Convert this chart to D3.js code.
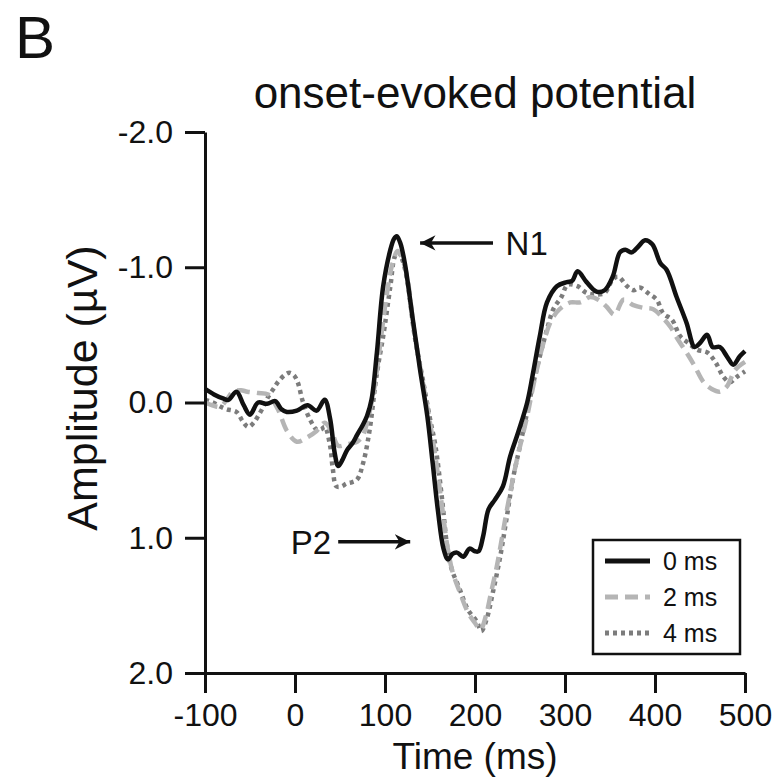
<!DOCTYPE html>
<html lang="en">
<head>
<meta charset="UTF-8">
<title>onset-evoked potential</title>
<script src="https://d3js.org/d3.v7.min.js"></script>
<style>
  body { margin: 0; background: #fff; }
  svg { display: block; font-family: "Liberation Sans", Arial, sans-serif; }
  .tick text { font-size: 32px; fill: #111; }
</style>
</head>
<body>
<svg width="777" height="782"></svg>
<script>
// time (ms) and amplitude (µV) per condition
const t0 = [-100,-90,-80,-74,-65,-57,-50,-41,-31,-22,-15,-9,2,14,24,33,39,44,48,53,58,64,69,75,80,85,91,98,106,110,113,117,122,131,139,147,153,159,165,170,175,180,187,194,200,204,209,215,222,231,239,248,258,264,272,280,291,302,308,314,324,335,344,353,361,367,374,381,389,397,406,413,424,435,444,450,458,464,472,480,487,494,500];
const v0 = [-0.10,-0.06,-0.03,-0.02,-0.08,0.02,0.09,0.00,0.01,-0.01,0.05,0.07,0.06,0.02,0.06,-0.02,0.12,0.37,0.47,0.42,0.35,0.30,0.24,0.17,0.10,-0.02,-0.37,-0.86,-1.13,-1.21,-1.23,-1.18,-1.03,-0.61,-0.24,0.10,0.45,0.81,1.08,1.16,1.12,1.11,1.14,1.08,1.10,1.10,0.99,0.79,0.72,0.62,0.40,0.22,0.00,-0.20,-0.49,-0.74,-0.86,-0.89,-0.90,-0.97,-0.89,-0.82,-0.83,-0.93,-1.11,-1.13,-1.11,-1.15,-1.20,-1.17,-1.03,-0.98,-0.78,-0.59,-0.41,-0.44,-0.50,-0.41,-0.41,-0.34,-0.28,-0.34,-0.38];

const t2 = [-100,-92,-83,-75,-69,-60,-53,-41,-30,-19,-9,2,13,24,33,41,48,57,64,69,75,80,88,95,102,108,114,118,124,133,142,150,156,163,169,175,183,192,200,206,212,218,224,230,235,246,258,264,270,276,285,294,306,317,328,337,346,355,365,376,387,398,408,417,426,435,444,454,463,472,480,489,500];
const v2 = [0.00,0.02,0.03,-0.03,-0.08,-0.09,-0.08,-0.07,-0.06,0.05,0.21,0.29,0.26,0.21,0.15,0.22,0.32,0.31,0.30,0.29,0.25,0.15,-0.10,-0.45,-0.80,-1.02,-1.12,-1.08,-0.95,-0.50,-0.15,0.15,0.40,0.75,1.05,1.25,1.40,1.55,1.63,1.68,1.58,1.40,1.22,1.00,0.81,0.44,0.10,-0.10,-0.28,-0.44,-0.61,-0.69,-0.74,-0.74,-0.78,-0.76,-0.71,-0.65,-0.76,-0.72,-0.70,-0.69,-0.63,-0.56,-0.46,-0.37,-0.27,-0.15,-0.10,-0.08,-0.12,-0.24,-0.30];

const t4 = [-100,-91,-83,-76,-65,-58,-52,-46,-41,-35,-30,-24,-19,-12,-6,-1,3,9,17,24,29,33,39,42,46,52,57,63,69,76,83,89,93,98,106,111,115,119,124,133,142,150,156,163,169,174,183,192,202,207,213,220,228,235,242,250,258,264,272,280,287,296,303,314,324,333,344,353,359,369,376,383,394,402,409,419,428,437,447,458,467,476,483,491,500];
const v4 = [-0.02,0.00,0.03,0.05,0.07,0.14,0.18,0.15,0.10,0.03,-0.04,-0.10,-0.15,-0.20,-0.22,-0.20,-0.15,0.00,0.13,0.20,0.20,0.18,0.32,0.49,0.62,0.62,0.60,0.59,0.57,0.44,0.20,-0.12,-0.30,-0.49,-0.86,-1.08,-1.11,-1.06,-0.93,-0.49,-0.17,0.12,0.32,0.69,1.06,1.23,1.38,1.53,1.62,1.69,1.60,1.40,1.14,0.86,0.57,0.32,0.07,-0.12,-0.34,-0.54,-0.69,-0.78,-0.87,-0.86,-0.81,-0.80,-0.81,-0.91,-0.93,-0.86,-0.83,-0.85,-0.80,-0.76,-0.66,-0.61,-0.49,-0.44,-0.39,-0.37,-0.30,-0.19,-0.15,-0.19,-0.23];

const labels = ["0 ms", "2 ms", "4 ms"];
const xTicks = [-100, 0, 100, 200, 300, 400, 500];
const yTicks = [-2, -1, 0, 1, 2];

const svg = d3.select("svg");

const x = d3.scaleLinear().domain([-100, 500]).range([205, 745]);
// negative up, as in the original
const y = d3.scaleLinear().domain([-2, 2]).range([132, 673]);

const series = [
  {name: labels[0], t: t0, v: v0, color: "#111", dash: null},
  {name: labels[1], t: t2, v: v2, color: "#b5b5b5", dash: "13,7"},
  {name: labels[2], t: t4, v: v4, color: "#7c7c7c", dash: "4,4"}
];

const line = d3.line()
  .x(d => x(d[0]))
  .y(d => y(d[1]))
  .curve(d3.curveCatmullRom.alpha(0.5));

// draw 4 ms first so the black trace sits on top
[series[2], series[1], series[0]].forEach(s => {
  svg.append("path")
    .datum(d3.zip(s.t, s.v))
    .attr("fill", "none")
    .attr("stroke", s.color)
    .attr("stroke-width", 4.5)
    .attr("stroke-linejoin", "round")
    .attr("stroke-dasharray", s.dash)
    .attr("d", line);
});

// axes
const xAxis = svg.append("g")
  .attr("transform", `translate(0,${y(2)})`)
  .call(d3.axisBottom(x).tickValues(xTicks).tickSize(20).tickPadding(10).tickSizeOuter(0));
const yAxis = svg.append("g")
  .attr("transform", `translate(${x(-100)},0)`)
  .call(d3.axisLeft(y).tickValues(yTicks).tickSize(20).tickPadding(12).tickSizeOuter(0));

[xAxis, yAxis].forEach(g => {
  g.attr("font-family", null).attr("font-size", null);
  g.select(".domain").attr("stroke", "#111").attr("stroke-width", 3);
  g.selectAll(".tick line").attr("stroke", "#111").attr("stroke-width", 3);
});
yAxis.selectAll(".tick text").text(d => d3.format(".1f")(d).replace("−", "-"));
xAxis.selectAll(".tick text").text(d => String(d));

// titles
svg.append("text").attr("x", 15).attr("y", 58)
  .attr("font-size", 60).attr("fill", "#111").text("B");
svg.append("text").attr("x", 475).attr("y", 108)
  .attr("text-anchor", "middle").attr("font-size", 44).attr("fill", "#111")
  .text("onset-evoked potential");
svg.append("text").attr("x", 475).attr("y", 769)
  .attr("text-anchor", "middle").attr("font-size", 37).attr("fill", "#111")
  .text("Time (ms)");
svg.append("text")
  .attr("transform", `translate(97,388) rotate(-90)`)
  .attr("text-anchor", "middle").attr("font-size", 43).attr("fill", "#111")
  .text("Amplitude (µV)");

// peak annotations
const defs = svg.append("defs");
defs.append("marker")
  .attr("id", "arrow")
  .attr("viewBox", "0 0 10 10")
  .attr("refX", 10).attr("refY", 5)
  .attr("markerWidth", 4.4).attr("markerHeight", 4.4)
  .attr("markerUnits", "strokeWidth")
  .attr("orient", "auto")
  .append("path").attr("d", "M0,0 L10,5 L0,10 L3,5 Z").attr("fill", "#111");

const notes = [
  {label: "N1", from: [220, -1.18], to: [139, -1.18], anchor: "start", tx: 234},
  {label: "P2", from: [48, 1.03], to: [128, 1.03], anchor: "end", tx: 40}
];
notes.forEach(n => {
  svg.append("line")
    .attr("x1", x(n.from[0])).attr("y1", y(n.from[1]))
    .attr("x2", x(n.to[0])).attr("y2", y(n.to[1]))
    .attr("stroke", "#111").attr("stroke-width", 3.5)
    .attr("marker-end", "url(#arrow)");
  svg.append("text")
    .attr("x", x(n.tx)).attr("y", y(n.from[1]))
    .attr("dy", "0.36em")
    .attr("text-anchor", n.anchor).attr("font-size", 33).attr("fill", "#111")
    .text(n.label);
});

// legend
const legend = svg.append("g").attr("transform", "translate(593,540)");
legend.append("rect")
  .attr("width", 147).attr("height", 114)
  .attr("fill", "#fff").attr("stroke", "#111").attr("stroke-width", 2.5);
series.forEach((s, i) => {
  const ly = 21 + i * 36;
  legend.append("line")
    .attr("x1", 12).attr("x2", 57).attr("y1", ly).attr("y2", ly)
    .attr("stroke", s.color).attr("stroke-width", 5)
    .attr("stroke-dasharray", s.dash);
  legend.append("text")
    .attr("x", 70).attr("y", ly).attr("dy", "0.36em")
    .attr("font-size", 25).attr("fill", "#111")
    .text(s.name);
});
</script>
</body>
</html>
